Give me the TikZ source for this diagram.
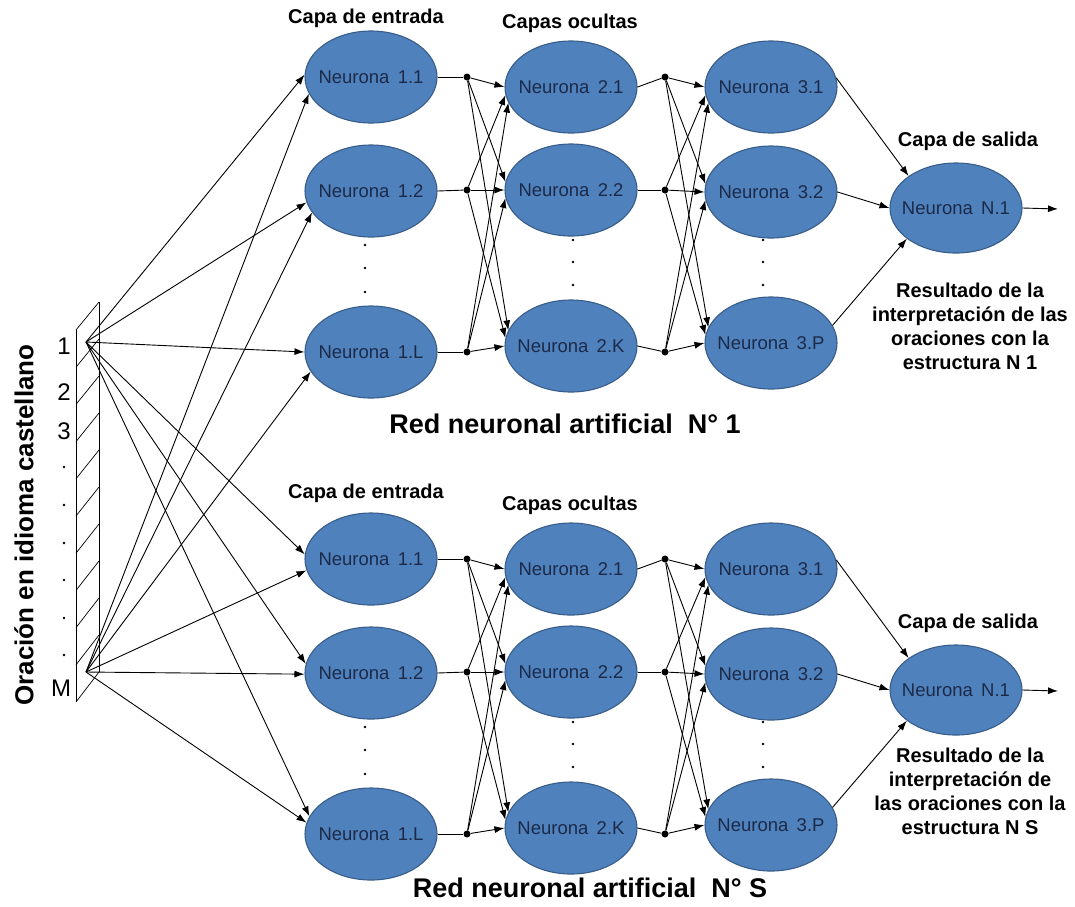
\documentclass[tikz,border=0pt]{standalone}
\usepackage{fontspec}
\setmainfont{Liberation Sans}
\usetikzlibrary{shapes.geometric,arrows.meta}
\definecolor{neuronfill}{HTML}{4F81BD}
\definecolor{neuronedge}{HTML}{385D8A}
\definecolor{neurontext}{HTML}{1C2A48}
\newcommand\neur[1]{Neurona\hspace{0.45em}#1}
\tikzset{
  neuron/.style={ellipse, draw=neuronedge, line width=1.1pt, fill=neuronfill,
    minimum width=132pt, minimum height=92pt, inner sep=0pt,
    label={[text=neurontext, font=\fontsize{18.5}{22}\selectfont]center:#1}},
  joint/.style={circle, fill=black, inner sep=0pt, minimum size=7pt},
  wire/.style={line width=0.9pt},
  arrowwire/.style={wire, -{Latex[length=10pt,width=7pt]}},
  layerlabel/.style={font=\bfseries\fontsize{20}{24}\selectfont},
  resultlabel/.style={font=\bfseries\fontsize{20}{24}\selectfont, align=center},
  titlelabel/.style={font=\bfseries\fontsize{27}{30}\selectfont},
  inputlabel/.style={font=\fontsize{24}{28}\selectfont},
  gapdot/.style={circle, fill=black, inner sep=0pt, minimum size=2.6pt},
}
\begin{document}
\begin{tikzpicture}[x=1pt,y=-1pt]
\useasboundingbox (0,0) rectangle (1075,906);

% ---- input vector: hatched slab with its entries ----
\draw[wire, line width=0.8pt] (76,330) -- (76,702);
\draw[wire, line width=0.8pt] (99,302) -- (99,672);
\foreach \k in {0,...,10}
  \draw[line width=0.7pt] (76,330+37.2*\k) -- (99,302+37*\k);
\node[font=\bfseries\fontsize{26}{30}\selectfont, rotate=90] (vtitle) at (24,525) {Oración en idioma castellano};
\node[inputlabel] (in1) at (64,346) {1};
\node[inputlabel] (in2) at (64,392) {2};
\node[inputlabel] (in3) at (64,431) {3};
\foreach \yy [count=\c] in {467,505,543,580,618,655}
  \node[gapdot] (ind\c) at (64,\yy) {};
\node[inputlabel] (inM) at (61,688) {M};
\coordinate (src1) at (86,342);
\coordinate (srcM) at (86,672);

% ---- the two networks ----
\foreach \n/\dy/\ly/\tx/\ty/\tlabel/\ry/\res in {
  a/0/18/565/424/1/326/{Resultado de la\\interpretación de las\\oraciones con la\\estructura N 1},
  b/482/493/590/888/S/791/{Resultado de la\\interpretación de\\las oraciones con la\\estructura N S}}{
  % layer titles
  \node[layerlabel] (\n-lin) at (366,\ly) {Capa de entrada};
  \node[layerlabel] (\n-lhid) at (570,23+\dy) {Capas ocultas};
  \node[layerlabel] (\n-lout) at (968,141+\dy) {Capa de salida};
  % neurons
  \node[neuron=\neur{1.1}] (\n-1-1) at (371,77+\dy)  {};
  \node[neuron=\neur{1.2}] (\n-1-2) at (371,191+\dy) {};
  \node[neuron=\neur{1.L}] (\n-1-3) at (371,352+\dy) {};
  \node[neuron=\neur{2.1}] (\n-2-1) at (571,87+\dy)  {};
  \node[neuron=\neur{2.2}] (\n-2-2) at (571,190+\dy) {};
  \node[neuron=\neur{2.K}] (\n-2-3) at (571,346+\dy) {};
  \node[neuron=\neur{3.1}] (\n-3-1) at (771,87+\dy)  {};
  \node[neuron=\neur{3.2}] (\n-3-2) at (771,192+\dy) {};
  \node[neuron=\neur{3.P}] (\n-3-3) at (771,343+\dy) {};
  \node[neuron=\neur{N.1}, minimum height=90pt] (\n-out) at (956,208+\dy) {};
  % vertical ellipsis between neurons
  \foreach \yy [count=\c] in {245,268,292}
    \node[gapdot] (\n-d1\c) at (365,\yy+\dy) {};
  \foreach \yy [count=\c] in {240,262,285}{
    \node[gapdot] (\n-d2\c) at (573,\yy+\dy) {};
    \node[gapdot] (\n-d3\c) at (763,\yy+\dy) {};
  }
  % junction points
  \node[joint] (\n-j1-1) at (467,77+\dy) {};
  \node[joint] (\n-j1-2) at (467,190+\dy) {};
  \node[joint] (\n-j1-3) at (467,352+\dy) {};
  \node[joint] (\n-j2-1) at (665,77+\dy) {};
  \node[joint] (\n-j2-2) at (665,190+\dy) {};
  \node[joint] (\n-j2-3) at (665,352+\dy) {};
  \foreach \i in {1,2,3}{
    \draw[wire] (\n-1-\i.east) -- (\n-j1-\i);
    \draw[wire] (\n-2-\i.east) -- (\n-j2-\i);
    \foreach \j in {1,2,3}{
      \pgfmathtruncatemacro\ang{180+7*(\i-\j)}
      \draw[arrowwire] (\n-j1-\i) -- (\n-2-\j.\ang);
      \draw[arrowwire] (\n-j2-\i) -- (\n-3-\j.\ang);
    }
  }
  % output layer
  \draw[arrowwire] (\n-3-1.8) -- (\n-out.146);
  \draw[arrowwire] (\n-3-2.east) -- (\n-out.180);
  \draw[arrowwire] (\n-3-3.16) -- (\n-out.212);
  \coordinate (\n-end) at (1058,209+\dy);
  \draw[arrowwire] (\n-out.east) -- (\n-end);
  \node[resultlabel] (\n-res) at (970,\ry) {\res};
  \node[titlelabel] (\n-title) at (\tx,\ty) {Red neuronal artificial\ \ N° \tlabel};
}

% ---- input connections ----
\draw[arrowwire] (src1) -- (a-1-1.178);
\draw[arrowwire] (src1) -- (a-1-2.190);
\draw[arrowwire] (src1) -- (a-1-3.180);
\draw[arrowwire] (src1) -- (b-1-1.176);
\draw[arrowwire] (src1) -- (b-1-2.172);
\draw[arrowwire] (src1) -- (b-1-3.164);
\draw[arrowwire] (srcM) -- (a-1-1.195);
\draw[arrowwire] (srcM) -- (a-1-2.200);
\draw[arrowwire] (srcM) -- (a-1-3.198);
\draw[arrowwire] (srcM) -- (b-1-1.190);
\draw[arrowwire] (srcM) -- (b-1-2.181);
\draw[arrowwire] (srcM) -- (b-1-3.170);
\end{tikzpicture}
\end{document}
